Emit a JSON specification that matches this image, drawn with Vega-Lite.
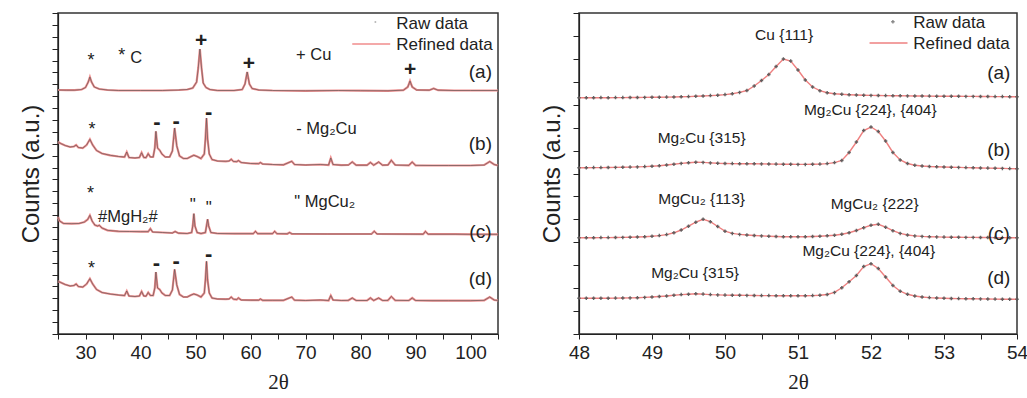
{
"$schema": "https://vega.github.io/schema/vega-lite/v6.json",
"padding": {"left": 18, "top": 11, "right": 0, "bottom": 0},
"background": "white",
"bounds": "flush",
"spacing": 81,
"config": {
  "view": {"stroke": "#333", "strokeWidth": 1.5},
  "font": "Liberation Sans",
  "axis": {"grid": false, "domainColor": "#222", "tickColor": "#222", "labelColor": "#222", "titleColor": "#222", "labelFont": "Liberation Sans", "labelFontSize": 19, "tickSize": 5, "domainWidth": 1.2, "tickWidth": 1, "labelFlush": false}
},
"datasets": {
  "L": [
    {"s":"a","x":25,"y":244},{"s":"a","x":26.5,"y":243.8},{"s":"a","x":28,"y":243.8},{"s":"a","x":29.3,"y":244.5},{"s":"a","x":30,"y":246.5},{"s":"a","x":30.5,"y":252},{"s":"a","x":30.8,"y":257},{"s":"a","x":31.1,"y":252},{"s":"a","x":31.6,"y":247},{"s":"a","x":32.5,"y":245},{"s":"a","x":34,"y":244},{"s":"a","x":36,"y":243.5},{"s":"a","x":40,"y":243.5},{"s":"a","x":44,"y":243.5},{"s":"a","x":47,"y":244},{"s":"a","x":48.5,"y":244.5},{"s":"a","x":49.5,"y":246},{"s":"a","x":50.2,"y":252},{"s":"a","x":50.5,"y":266},{"s":"a","x":50.8,"y":285},{"s":"a","x":51.1,"y":266},{"s":"a","x":51.4,"y":251},{"s":"a","x":51.9,"y":246.5},{"s":"a","x":52.6,"y":244.5},{"s":"a","x":54,"y":243.5},{"s":"a","x":57,"y":243.5},{"s":"a","x":58.5,"y":244.5},{"s":"a","x":59,"y":250},{"s":"a","x":59.4,"y":262},{"s":"a","x":59.8,"y":250},{"s":"a","x":60.3,"y":245.5},{"s":"a","x":61.5,"y":244},{"s":"a","x":64,"y":243.5},{"s":"a","x":70,"y":243.2},{"s":"a","x":76,"y":243.5},{"s":"a","x":80,"y":243.3},{"s":"a","x":85,"y":243.2},{"s":"a","x":87.8,"y":243.8},{"s":"a","x":88.6,"y":247},{"s":"a","x":89,"y":253},{"s":"a","x":89.4,"y":247},{"s":"a","x":90.2,"y":244},{"s":"a","x":92.5,"y":243.8},{"s":"a","x":93.3,"y":245.5},{"s":"a","x":94.1,"y":243.8},{"s":"a","x":97,"y":243.5},{"s":"a","x":100,"y":243.5},{"s":"a","x":105,"y":243.5},
    {"s":"b","x":25,"y":192},{"s":"b","x":25.5,"y":190.5},{"s":"b","x":26.3,"y":188.5},{"s":"b","x":27.2,"y":187},{"s":"b","x":27.9,"y":187.5},{"s":"b","x":28.3,"y":189},{"s":"b","x":28.7,"y":186.5},{"s":"b","x":29.5,"y":186},{"s":"b","x":30.2,"y":189},{"s":"b","x":30.8,"y":194.7},{"s":"b","x":31.3,"y":189},{"s":"b","x":32,"y":183.5},{"s":"b","x":33,"y":180.5},{"s":"b","x":34.5,"y":178.7},{"s":"b","x":36,"y":177.5},{"s":"b","x":37.1,"y":177},{"s":"b","x":37.5,"y":182},{"s":"b","x":37.9,"y":176.5},{"s":"b","x":39,"y":176},{"s":"b","x":39.8,"y":176.5},{"s":"b","x":40.2,"y":181.3},{"s":"b","x":40.6,"y":176.5},{"s":"b","x":41,"y":176.3},{"s":"b","x":41.4,"y":180.3},{"s":"b","x":41.8,"y":177},{"s":"b","x":42.3,"y":177},{"s":"b","x":42.6,"y":186},{"s":"b","x":42.8,"y":202.7},{"s":"b","x":43.1,"y":186},{"s":"b","x":43.5,"y":183.7},{"s":"b","x":43.9,"y":180},{"s":"b","x":44.5,"y":177},{"s":"b","x":45.3,"y":177},{"s":"b","x":45.8,"y":183},{"s":"b","x":46.2,"y":206},{"s":"b","x":46.6,"y":188},{"s":"b","x":47.1,"y":178},{"s":"b","x":47.8,"y":175.5},{"s":"b","x":48.5,"y":175.5},{"s":"b","x":49.2,"y":177.5},{"s":"b","x":49.7,"y":178.7},{"s":"b","x":50.3,"y":177.5},{"s":"b","x":51,"y":175.5},{"s":"b","x":51.6,"y":180},{"s":"b","x":51.8,"y":195},{"s":"b","x":52,"y":216},{"s":"b","x":52.2,"y":195},{"s":"b","x":52.5,"y":180},{"s":"b","x":53,"y":174.5},{"s":"b","x":54,"y":173},{"s":"b","x":55.5,"y":172.7},{"s":"b","x":56.1,"y":173},{"s":"b","x":56.5,"y":174.7},{"s":"b","x":56.9,"y":172.5},{"s":"b","x":57.5,"y":172.3},{"s":"b","x":57.8,"y":173.5},{"s":"b","x":58.3,"y":171.5},{"s":"b","x":60,"y":170.5},{"s":"b","x":61.5,"y":170.3},{"s":"b","x":61.8,"y":171.5},{"s":"b","x":62.2,"y":170},{"s":"b","x":64,"y":169.5},{"s":"b","x":66,"y":169.2},{"s":"b","x":67.5,"y":172.7},{"s":"b","x":68,"y":169.5},{"s":"b","x":70,"y":169},{"s":"b","x":72.7,"y":169.5},{"s":"b","x":74.2,"y":169},{"s":"b","x":74.6,"y":176},{"s":"b","x":75,"y":169.5},{"s":"b","x":76.5,"y":168.8},{"s":"b","x":77.8,"y":169},{"s":"b","x":78.5,"y":172},{"s":"b","x":79.2,"y":168.8},{"s":"b","x":81.2,"y":168.8},{"s":"b","x":81.8,"y":171.5},{"s":"b","x":82.4,"y":168.8},{"s":"b","x":83.3,"y":172},{"s":"b","x":84,"y":168.8},{"s":"b","x":85,"y":169},{"s":"b","x":85.6,"y":173.7},{"s":"b","x":86.3,"y":169},{"s":"b","x":88.8,"y":168.7},{"s":"b","x":89.4,"y":172},{"s":"b","x":90,"y":168.7},{"s":"b","x":93,"y":168.5},{"s":"b","x":96,"y":168.5},{"s":"b","x":100,"y":168.5},{"s":"b","x":102.5,"y":169},{"s":"b","x":103.5,"y":172.5},{"s":"b","x":104.3,"y":169.5},{"s":"b","x":105,"y":168.5},
    {"s":"c","x":25,"y":117},{"s":"c","x":25.3,"y":113},{"s":"c","x":26,"y":110.5},{"s":"c","x":27.5,"y":110.3},{"s":"c","x":28.8,"y":110.5},{"s":"c","x":29.8,"y":112},{"s":"c","x":30.4,"y":114.5},{"s":"c","x":30.8,"y":118.7},{"s":"c","x":31.2,"y":113},{"s":"c","x":31.7,"y":109},{"s":"c","x":32.2,"y":108},{"s":"c","x":32.5,"y":108.7},{"s":"c","x":33,"y":106},{"s":"c","x":34,"y":103.7},{"s":"c","x":36,"y":102.7},{"s":"c","x":38,"y":102.5},{"s":"c","x":40,"y":102.3},{"s":"c","x":41.4,"y":102.3},{"s":"c","x":41.8,"y":105.3},{"s":"c","x":42.2,"y":102},{"s":"c","x":44,"y":101.5},{"s":"c","x":45.8,"y":101},{"s":"c","x":46.3,"y":102.5},{"s":"c","x":46.9,"y":100.8},{"s":"c","x":48.5,"y":100.5},{"s":"c","x":49.3,"y":101.5},{"s":"c","x":49.5,"y":108},{"s":"c","x":49.7,"y":120.3},{"s":"c","x":49.9,"y":108},{"s":"c","x":50.3,"y":101.5},{"s":"c","x":51,"y":100.5},{"s":"c","x":51.8,"y":101.5},{"s":"c","x":52,"y":108},{"s":"c","x":52.2,"y":114.7},{"s":"c","x":52.4,"y":108},{"s":"c","x":52.8,"y":101.5},{"s":"c","x":54,"y":100.5},{"s":"c","x":57,"y":100.3},{"s":"c","x":60.5,"y":100.3},{"s":"c","x":60.9,"y":102.7},{"s":"c","x":61.3,"y":100.3},{"s":"c","x":64,"y":100.3},{"s":"c","x":64.4,"y":102.7},{"s":"c","x":64.8,"y":100.3},{"s":"c","x":66.7,"y":100.2},{"s":"c","x":67.1,"y":101.5},{"s":"c","x":67.5,"y":100.2},{"s":"c","x":74,"y":100},{"s":"c","x":82,"y":100},{"s":"c","x":82.5,"y":102.7},{"s":"c","x":83,"y":100},{"s":"c","x":91.4,"y":99.8},{"s":"c","x":91.8,"y":102.5},{"s":"c","x":92.3,"y":99.8},{"s":"c","x":97.2,"y":99.8},{"s":"c","x":100,"y":99.7},{"s":"c","x":105,"y":99.7},
    {"s":"d","x":25,"y":52.7},{"s":"d","x":25.5,"y":51.5},{"s":"d","x":26.3,"y":49.5},{"s":"d","x":27.2,"y":48},{"s":"d","x":27.9,"y":48.5},{"s":"d","x":28.3,"y":50},{"s":"d","x":28.7,"y":47.5},{"s":"d","x":29.5,"y":47},{"s":"d","x":30.2,"y":50},{"s":"d","x":30.8,"y":55.3},{"s":"d","x":31.3,"y":50},{"s":"d","x":32,"y":44.5},{"s":"d","x":33,"y":41.5},{"s":"d","x":34.5,"y":40},{"s":"d","x":36,"y":39},{"s":"d","x":37.1,"y":38.5},{"s":"d","x":37.5,"y":43},{"s":"d","x":37.9,"y":38},{"s":"d","x":39,"y":37.5},{"s":"d","x":39.8,"y":38},{"s":"d","x":40.2,"y":42.5},{"s":"d","x":40.6,"y":38},{"s":"d","x":41,"y":37.8},{"s":"d","x":41.4,"y":41.5},{"s":"d","x":41.8,"y":38.5},{"s":"d","x":42.3,"y":38.5},{"s":"d","x":42.6,"y":46},{"s":"d","x":42.8,"y":62},{"s":"d","x":43.1,"y":46},{"s":"d","x":43.5,"y":44.5},{"s":"d","x":43.9,"y":41},{"s":"d","x":44.5,"y":38.5},{"s":"d","x":45.3,"y":38.5},{"s":"d","x":45.8,"y":44},{"s":"d","x":46.2,"y":64.7},{"s":"d","x":46.6,"y":49},{"s":"d","x":47.1,"y":39.5},{"s":"d","x":47.8,"y":37},{"s":"d","x":48.5,"y":37},{"s":"d","x":49.2,"y":39},{"s":"d","x":49.7,"y":40},{"s":"d","x":50.3,"y":39},{"s":"d","x":51,"y":37},{"s":"d","x":51.6,"y":41},{"s":"d","x":51.8,"y":54},{"s":"d","x":52,"y":72.7},{"s":"d","x":52.2,"y":54},{"s":"d","x":52.5,"y":41},{"s":"d","x":53,"y":36},{"s":"d","x":54,"y":35},{"s":"d","x":55.5,"y":34.8},{"s":"d","x":56.1,"y":35},{"s":"d","x":56.5,"y":37},{"s":"d","x":56.9,"y":34.8},{"s":"d","x":57.5,"y":34.5},{"s":"d","x":57.8,"y":36},{"s":"d","x":58.3,"y":34},{"s":"d","x":60,"y":33.8},{"s":"d","x":61.5,"y":33.8},{"s":"d","x":61.8,"y":35},{"s":"d","x":62.2,"y":33.7},{"s":"d","x":64,"y":33.7},{"s":"d","x":66,"y":33.7},{"s":"d","x":67.5,"y":37},{"s":"d","x":68,"y":33.8},{"s":"d","x":70,"y":33.5},{"s":"d","x":72.7,"y":34},{"s":"d","x":74.2,"y":33.5},{"s":"d","x":74.6,"y":38.5},{"s":"d","x":75,"y":34},{"s":"d","x":76.5,"y":33.5},{"s":"d","x":77.8,"y":33.7},{"s":"d","x":78.5,"y":36},{"s":"d","x":79.2,"y":33.5},{"s":"d","x":81.2,"y":33.5},{"s":"d","x":81.8,"y":36},{"s":"d","x":82.4,"y":33.5},{"s":"d","x":83.3,"y":36},{"s":"d","x":84,"y":33.5},{"s":"d","x":85,"y":33.7},{"s":"d","x":85.6,"y":37.5},{"s":"d","x":86.3,"y":33.7},{"s":"d","x":88.8,"y":33.5},{"s":"d","x":89.4,"y":36},{"s":"d","x":90,"y":33.5},{"s":"d","x":93,"y":33.3},{"s":"d","x":96,"y":33.3},{"s":"d","x":100,"y":33.3},{"s":"d","x":102.5,"y":33.7},{"s":"d","x":103.5,"y":37},{"s":"d","x":104.3,"y":34},{"s":"d","x":105,"y":33.5}
  ],
  "R": [
    {"s":"a","x":48.0,"y":236.3},{"s":"a","x":48.1,"y":236.3},{"s":"a","x":48.2,"y":236.3},{"s":"a","x":48.3,"y":236.4},{"s":"a","x":48.4,"y":236.3},{"s":"a","x":48.5,"y":236.4},{"s":"a","x":48.6,"y":236.4},{"s":"a","x":48.7,"y":236.5},{"s":"a","x":48.8,"y":236.5},{"s":"a","x":48.9,"y":236.6},{"s":"a","x":49.0,"y":236.7},{"s":"a","x":49.1,"y":236.8},{"s":"a","x":49.2,"y":236.9},{"s":"a","x":49.3,"y":237.0},{"s":"a","x":49.4,"y":237.2},{"s":"a","x":49.5,"y":237.4},{"s":"a","x":49.6,"y":237.7},{"s":"a","x":49.7,"y":238.0},{"s":"a","x":49.8,"y":238.4},{"s":"a","x":49.9,"y":238.8},{"s":"a","x":50.0,"y":239.4},{"s":"a","x":50.1,"y":240.3},{"s":"a","x":50.2,"y":241.6},{"s":"a","x":50.3,"y":243.5},{"s":"a","x":50.4,"y":248},{"s":"a","x":50.5,"y":253.5},{"s":"a","x":50.6,"y":259.5},{"s":"a","x":50.7,"y":267.5},{"s":"a","x":50.8,"y":275},{"s":"a","x":50.9,"y":273},{"s":"a","x":51.0,"y":264},{"s":"a","x":51.1,"y":254},{"s":"a","x":51.2,"y":247},{"s":"a","x":51.3,"y":243.3},{"s":"a","x":51.4,"y":241.3},{"s":"a","x":51.5,"y":240.3},{"s":"a","x":51.6,"y":239.7},{"s":"a","x":51.7,"y":239.3},{"s":"a","x":51.8,"y":239.0},{"s":"a","x":51.9,"y":238.8},{"s":"a","x":52.0,"y":238.6},{"s":"a","x":52.1,"y":238.5},{"s":"a","x":52.2,"y":238.4},{"s":"a","x":52.3,"y":238.3},{"s":"a","x":52.4,"y":238.2},{"s":"a","x":52.5,"y":238.1},{"s":"a","x":52.6,"y":238.0},{"s":"a","x":52.7,"y":238.0},{"s":"a","x":52.8,"y":237.9},{"s":"a","x":52.9,"y":237.8},{"s":"a","x":53.0,"y":237.8},{"s":"a","x":53.1,"y":237.7},{"s":"a","x":53.2,"y":237.7},{"s":"a","x":53.3,"y":237.6},{"s":"a","x":53.4,"y":237.6},{"s":"a","x":53.5,"y":237.5},{"s":"a","x":53.6,"y":237.5},{"s":"a","x":53.7,"y":237.4},{"s":"a","x":53.8,"y":237.4},{"s":"a","x":53.9,"y":237.3},{"s":"a","x":54.0,"y":237.3},
    {"s":"b","x":48.0,"y":166.3},{"s":"b","x":48.1,"y":166.3},{"s":"b","x":48.2,"y":166.4},{"s":"b","x":48.3,"y":166.4},{"s":"b","x":48.4,"y":166.5},{"s":"b","x":48.5,"y":166.6},{"s":"b","x":48.6,"y":166.7},{"s":"b","x":48.7,"y":166.9},{"s":"b","x":48.8,"y":167.1},{"s":"b","x":48.9,"y":167.4},{"s":"b","x":49.0,"y":167.8},{"s":"b","x":49.1,"y":168.3},{"s":"b","x":49.2,"y":169.0},{"s":"b","x":49.3,"y":169.8},{"s":"b","x":49.4,"y":170.6},{"s":"b","x":49.5,"y":171.3},{"s":"b","x":49.6,"y":171.8},{"s":"b","x":49.7,"y":171.6},{"s":"b","x":49.8,"y":171.1},{"s":"b","x":49.9,"y":170.7},{"s":"b","x":50.0,"y":170.5},{"s":"b","x":50.1,"y":170.4},{"s":"b","x":50.2,"y":170.3},{"s":"b","x":50.3,"y":170.3},{"s":"b","x":50.4,"y":170.2},{"s":"b","x":50.5,"y":170.1},{"s":"b","x":50.6,"y":170.0},{"s":"b","x":50.7,"y":169.9},{"s":"b","x":50.8,"y":169.8},{"s":"b","x":50.9,"y":169.7},{"s":"b","x":51.0,"y":169.6},{"s":"b","x":51.1,"y":169.6},{"s":"b","x":51.2,"y":169.7},{"s":"b","x":51.3,"y":169.9},{"s":"b","x":51.4,"y":170.4},{"s":"b","x":51.5,"y":171.4},{"s":"b","x":51.6,"y":173.5},{"s":"b","x":51.7,"y":181.5},{"s":"b","x":51.8,"y":192},{"s":"b","x":51.9,"y":203.5},{"s":"b","x":52.0,"y":207},{"s":"b","x":52.1,"y":202.5},{"s":"b","x":52.2,"y":193},{"s":"b","x":52.3,"y":181.5},{"s":"b","x":52.4,"y":174},{"s":"b","x":52.5,"y":170.5},{"s":"b","x":52.6,"y":168.8},{"s":"b","x":52.7,"y":168},{"s":"b","x":52.8,"y":167.5},{"s":"b","x":52.9,"y":167.2},{"s":"b","x":53.0,"y":167.0},{"s":"b","x":53.1,"y":166.8},{"s":"b","x":53.2,"y":166.6},{"s":"b","x":53.3,"y":166.4},{"s":"b","x":53.4,"y":166.2},{"s":"b","x":53.5,"y":166.0},{"s":"b","x":53.6,"y":165.9},{"s":"b","x":53.7,"y":165.7},{"s":"b","x":53.8,"y":165.6},{"s":"b","x":53.9,"y":165.4},{"s":"b","x":54.0,"y":165.3},
    {"s":"c","x":48.0,"y":96.3},{"s":"c","x":48.1,"y":96.3},{"s":"c","x":48.2,"y":96.3},{"s":"c","x":48.3,"y":96.4},{"s":"c","x":48.4,"y":96.4},{"s":"c","x":48.5,"y":96.5},{"s":"c","x":48.6,"y":96.6},{"s":"c","x":48.7,"y":96.8},{"s":"c","x":48.8,"y":97.0},{"s":"c","x":48.9,"y":97.3},{"s":"c","x":49.0,"y":97.7},{"s":"c","x":49.1,"y":98.4},{"s":"c","x":49.2,"y":99.4},{"s":"c","x":49.3,"y":101.2},{"s":"c","x":49.4,"y":104},{"s":"c","x":49.5,"y":107.8},{"s":"c","x":49.6,"y":111.8},{"s":"c","x":49.7,"y":114.7},{"s":"c","x":49.8,"y":112.3},{"s":"c","x":49.9,"y":107.5},{"s":"c","x":50.0,"y":102.8},{"s":"c","x":50.1,"y":100.6},{"s":"c","x":50.2,"y":99.6},{"s":"c","x":50.3,"y":99.0},{"s":"c","x":50.4,"y":98.5},{"s":"c","x":50.5,"y":98.1},{"s":"c","x":50.6,"y":97.8},{"s":"c","x":50.7,"y":97.5},{"s":"c","x":50.8,"y":97.3},{"s":"c","x":50.9,"y":97.2},{"s":"c","x":51.0,"y":97.2},{"s":"c","x":51.1,"y":97.3},{"s":"c","x":51.2,"y":97.5},{"s":"c","x":51.3,"y":97.8},{"s":"c","x":51.4,"y":98.2},{"s":"c","x":51.5,"y":98.8},{"s":"c","x":51.6,"y":99.7},{"s":"c","x":51.7,"y":101.3},{"s":"c","x":51.8,"y":103.5},{"s":"c","x":51.9,"y":106.3},{"s":"c","x":52.0,"y":108.7},{"s":"c","x":52.1,"y":109.7},{"s":"c","x":52.2,"y":106.8},{"s":"c","x":52.3,"y":103.3},{"s":"c","x":52.4,"y":100.6},{"s":"c","x":52.5,"y":99.0},{"s":"c","x":52.6,"y":98.1},{"s":"c","x":52.7,"y":97.6},{"s":"c","x":52.8,"y":97.3},{"s":"c","x":52.9,"y":97.1},{"s":"c","x":53.0,"y":96.9},{"s":"c","x":53.1,"y":96.8},{"s":"c","x":53.2,"y":96.7},{"s":"c","x":53.3,"y":96.6},{"s":"c","x":53.4,"y":96.6},{"s":"c","x":53.5,"y":96.5},{"s":"c","x":53.6,"y":96.5},{"s":"c","x":53.7,"y":96.4},{"s":"c","x":53.8,"y":96.4},{"s":"c","x":53.9,"y":96.3},{"s":"c","x":54.0,"y":96.3},
    {"s":"d","x":48.0,"y":35.7},{"s":"d","x":48.1,"y":35.7},{"s":"d","x":48.2,"y":35.7},{"s":"d","x":48.3,"y":35.8},{"s":"d","x":48.4,"y":35.8},{"s":"d","x":48.5,"y":35.9},{"s":"d","x":48.6,"y":36.0},{"s":"d","x":48.7,"y":36.1},{"s":"d","x":48.8,"y":36.3},{"s":"d","x":48.9,"y":36.6},{"s":"d","x":49.0,"y":37.0},{"s":"d","x":49.1,"y":37.5},{"s":"d","x":49.2,"y":38.0},{"s":"d","x":49.3,"y":38.7},{"s":"d","x":49.4,"y":39.4},{"s":"d","x":49.5,"y":39.8},{"s":"d","x":49.6,"y":40.2},{"s":"d","x":49.7,"y":39.9},{"s":"d","x":49.8,"y":39.4},{"s":"d","x":49.9,"y":39.1},{"s":"d","x":50.0,"y":38.9},{"s":"d","x":50.1,"y":38.8},{"s":"d","x":50.2,"y":38.7},{"s":"d","x":50.3,"y":38.6},{"s":"d","x":50.4,"y":38.5},{"s":"d","x":50.5,"y":38.4},{"s":"d","x":50.6,"y":38.4},{"s":"d","x":50.7,"y":38.3},{"s":"d","x":50.8,"y":38.3},{"s":"d","x":50.9,"y":38.2},{"s":"d","x":51.0,"y":38.2},{"s":"d","x":51.1,"y":38.3},{"s":"d","x":51.2,"y":38.4},{"s":"d","x":51.3,"y":38.7},{"s":"d","x":51.4,"y":39.5},{"s":"d","x":51.5,"y":41.6},{"s":"d","x":51.6,"y":46.2},{"s":"d","x":51.7,"y":52.3},{"s":"d","x":51.8,"y":58.5},{"s":"d","x":51.9,"y":67.5},{"s":"d","x":52.0,"y":70.3},{"s":"d","x":52.1,"y":65.5},{"s":"d","x":52.2,"y":57},{"s":"d","x":52.3,"y":48.5},{"s":"d","x":52.4,"y":42.8},{"s":"d","x":52.5,"y":39.7},{"s":"d","x":52.6,"y":38.0},{"s":"d","x":52.7,"y":37.0},{"s":"d","x":52.8,"y":36.4},{"s":"d","x":52.9,"y":36.0},{"s":"d","x":53.0,"y":35.7},{"s":"d","x":53.1,"y":35.5},{"s":"d","x":53.2,"y":35.4},{"s":"d","x":53.3,"y":35.3},{"s":"d","x":53.4,"y":35.2},{"s":"d","x":53.5,"y":35.1},{"s":"d","x":53.6,"y":35.0},{"s":"d","x":53.7,"y":34.9},{"s":"d","x":53.8,"y":34.8},{"s":"d","x":53.9,"y":34.8},{"s":"d","x":54.0,"y":34.7}
  ],
  "ticks": [
    {"ph":"Mg2Cu","x":25.4},{"ph":"Mg2Cu","x":28.5},{"ph":"Mg2Cu","x":37.5},{"ph":"Mg2Cu","x":40.3},{"ph":"Mg2Cu","x":40.9},{"ph":"Mg2Cu","x":41.5},{"ph":"Mg2Cu","x":42.7},{"ph":"Mg2Cu","x":43.6},{"ph":"Mg2Cu","x":46.0},{"ph":"Mg2Cu","x":46.15},{"ph":"Mg2Cu","x":46.3},{"ph":"Mg2Cu","x":47.7},{"ph":"Mg2Cu","x":49.7},{"ph":"Mg2Cu","x":51.8},{"ph":"Mg2Cu","x":52.4},{"ph":"Mg2Cu","x":56.2},{"ph":"Mg2Cu","x":57.2},{"ph":"Mg2Cu","x":58.0},{"ph":"Mg2Cu","x":62.7},{"ph":"Mg2Cu","x":63.1},{"ph":"Mg2Cu","x":63.6},{"ph":"Mg2Cu","x":64.1},{"ph":"Mg2Cu","x":66.3},{"ph":"Mg2Cu","x":66.9},{"ph":"Mg2Cu","x":67.4},{"ph":"Mg2Cu","x":68.4},{"ph":"Mg2Cu","x":69.4},{"ph":"Mg2Cu","x":72.6},{"ph":"Mg2Cu","x":72.8},{"ph":"Mg2Cu","x":75.1},{"ph":"Mg2Cu","x":75.7},{"ph":"Mg2Cu","x":76.9},{"ph":"Mg2Cu","x":77.5},{"ph":"Mg2Cu","x":78.0},{"ph":"Mg2Cu","x":78.4},{"ph":"Mg2Cu","x":78.9},{"ph":"Mg2Cu","x":80.3},{"ph":"Mg2Cu","x":81.8},{"ph":"Mg2Cu","x":82.4},{"ph":"Mg2Cu","x":83.8},{"ph":"Mg2Cu","x":84.0},{"ph":"Mg2Cu","x":85.7},{"ph":"Mg2Cu","x":87.5},{"ph":"Mg2Cu","x":88.5},{"ph":"Mg2Cu","x":90.9},{"ph":"Mg2Cu","x":91.8},{"ph":"Mg2Cu","x":92.2},{"ph":"Mg2Cu","x":92.4},{"ph":"Mg2Cu","x":95.4},{"ph":"Mg2Cu","x":95.9},{"ph":"Mg2Cu","x":96.1},{"ph":"Mg2Cu","x":97.2},{"ph":"Mg2Cu","x":98.2},{"ph":"Mg2Cu","x":99.1},{"ph":"Mg2Cu","x":100.3},{"ph":"Mg2Cu","x":101.4},{"ph":"Mg2Cu","x":102.1},{"ph":"Mg2Cu","x":102.7},{"ph":"Mg2Cu","x":103.0},{"ph":"Mg2Cu","x":103.6},{"ph":"Mg2Cu","x":104.0},
    {"ph":"MgCu2","x":25.1},{"ph":"MgCu2","x":42.1},{"ph":"MgCu2","x":49.7},{"ph":"MgCu2","x":52.1},{"ph":"MgCu2","x":60.9},{"ph":"MgCu2","x":67.1},{"ph":"MgCu2","x":76.7},{"ph":"MgCu2","x":82.3},{"ph":"MgCu2","x":91.7},{"ph":"MgCu2","x":97.2},{"ph":"MgCu2","x":98.9}
  ],
  "ann": [
    {"p":"L","k":"star","x":31.0,"y":278,"t":"*"},{"p":"L","k":"star","x":36.6,"y":283,"t":"*"},{"p":"L","k":"star","x":31.2,"y":208.7,"t":"*"},{"p":"L","k":"star","x":30.9,"y":144.7,"t":"*"},{"p":"L","k":"star","x":31.1,"y":70.3,"t":"*"},
    {"p":"L","k":"plus","x":51.0,"y":292.7,"t":"+"},{"p":"L","k":"plus","x":59.7,"y":270.3,"t":"+"},{"p":"L","k":"plus","x":89.0,"y":263.7,"t":"+"},
    {"p":"L","k":"dash","x":43.0,"y":212,"t":"-"},{"p":"L","k":"dash","x":46.5,"y":212.7,"t":"-"},{"p":"L","k":"dash","x":52.4,"y":222,"t":"-"},{"p":"L","k":"dash","x":42.9,"y":71.3,"t":"-"},{"p":"L","k":"dash","x":46.5,"y":72.7,"t":"-"},{"p":"L","k":"dash","x":52.4,"y":80.3,"t":"-"},
    {"p":"L","k":"quote","x":49.5,"y":133.7,"t":"\""},{"p":"L","k":"quote","x":52.4,"y":131.3,"t":"\""},
    {"p":"L","k":"label","x":39.2,"y":276,"t":"C"},{"p":"L","k":"label","x":71.5,"y":279,"t":"+ Cu"},{"p":"L","k":"label","x":73.8,"y":205.3,"t":"- Mg₂Cu"},{"p":"L","k":"label","x":37.7,"y":117,"t":"#MgH₂#"},{"p":"L","k":"label","x":73.5,"y":132,"t":"\" MgCu₂"},
    {"p":"L","k":"tag","x":101.8,"y":262,"t":"(a)"},{"p":"L","k":"tag","x":101.8,"y":190.3,"t":"(b)"},{"p":"L","k":"tag","x":101.8,"y":102,"t":"(c)"},{"p":"L","k":"tag","x":101.8,"y":55.3,"t":"(d)"},
    {"p":"L","k":"legend","x":86.5,"y":310.3,"t":"Raw data"},{"p":"L","k":"legend","x":86.5,"y":289.3,"t":"Refined data"},
    {"p":"R","k":"label","x":50.81,"y":299,"t":"Cu {111}"},{"p":"R","k":"label","x":51.99,"y":223.7,"t":"Mg₂Cu {224}, {404}"},{"p":"R","k":"label","x":49.68,"y":196.3,"t":"Mg₂Cu {315}"},{"p":"R","k":"label","x":49.68,"y":134.7,"t":"MgCu₂ {113}"},{"p":"R","k":"label","x":52.05,"y":129.7,"t":"MgCu₂ {222}"},{"p":"R","k":"label","x":51.97,"y":83,"t":"Mg₂Cu {224}, {404}"},{"p":"R","k":"label","x":49.59,"y":61.3,"t":"Mg₂Cu {315}"},
    {"p":"R","k":"tag","x":53.75,"y":261.3,"t":"(a)"},{"p":"R","k":"tag","x":53.75,"y":183.7,"t":"(b)"},{"p":"R","k":"tag","x":53.75,"y":99.7,"t":"(c)"},{"p":"R","k":"tag","x":53.75,"y":56.3,"t":"(d)"},
    {"p":"R","k":"legend","x":52.58,"y":311.3,"t":"Raw data"},{"p":"R","k":"legend","x":52.58,"y":290.3,"t":"Refined data"}
  ],
  "legline": [
    {"p":"L","x":78.5,"y":290},{"p":"L","x":85.4,"y":290},
    {"p":"R","x":51.98,"y":291},{"p":"R","x":52.5,"y":291}
  ],
  "legpt": [
    {"p":"L","x":82.7,"y":312},{"p":"R","x":52.3,"y":312.3}
  ]
},
"hconcat": [
  {
    "width": 440, "height": 321,
    "encoding": {
      "x": {"field": "x", "type": "quantitative", "scale": {"domain": [25, 105], "nice": false, "zero": false},
        "axis": {"title": "2θ", "titleFont": "Liberation Serif", "titleFontSize": 21, "titleFontWeight": "normal", "titlePadding": 9, "values": [25,30,35,40,45,50,55,60,65,70,75,80,85,90,95,100,105], "labelExpr": "datum.value % 10 === 0 ? datum.label : ''", "labelPadding": 4}},
      "y": {"field": "y", "type": "quantitative", "scale": {"domain": [0, 321], "nice": false, "zero": false},
        "axis": {"title": "Counts (a.u.)", "titleFontSize": 24, "titleFontWeight": "normal", "titlePadding": 8, "labels": false, "tickSize": 6, "values": [0,11.89,23.78,35.67,47.56,59.45,71.34,83.23,95.12,107.01,118.9,130.79,142.68,154.57,166.46,178.35,190.24,202.13,214.02,225.91,237.8,249.69,261.58,273.47,285.36,297.25,309.14,321]}}
    },
    "layer": [
      {"data": {"name": "L"}, "mark": {"type": "line", "color": "#f08c8c", "strokeWidth": 2.2}, "encoding": {"detail": {"field": "s"}}},
      {"data": {"name": "L"}, "mark": {"type": "line", "color": "#555", "strokeWidth": 0.8, "opacity": 0.8}, "encoding": {"detail": {"field": "s"}}},
      {"data": {"name": "ticks"}, "transform": [{"filter": "datum.ph === 'Mg2Cu'"}], "mark": {"type": "tick", "orient": "vertical", "size": 6, "thickness": 1, "color": "#999"}, "encoding": {"y": {"datum": 160.5}}},
      {"data": {"name": "ticks"}, "transform": [{"filter": "datum.ph === 'Mg2Cu'"}], "mark": {"type": "tick", "orient": "vertical", "size": 6, "thickness": 1, "color": "#999"}, "encoding": {"y": {"datum": 24}}},
      {"data": {"name": "ticks"}, "transform": [{"filter": "datum.ph === 'MgCu2'"}], "mark": {"type": "tick", "orient": "vertical", "size": 6, "thickness": 1, "color": "#999"}, "encoding": {"y": {"datum": 90.5}}},
      {"data": {"name": "ann"}, "transform": [{"filter": "datum.p === 'L' && datum.k === 'star'"}], "mark": {"type": "text", "fontSize": 18, "baseline": "middle", "dy": 5, "color": "#222"}, "encoding": {"text": {"field": "t"}}},
      {"data": {"name": "ann"}, "transform": [{"filter": "datum.p === 'L' && datum.k === 'plus'"}], "mark": {"type": "text", "fontSize": 21, "fontWeight": "bold", "baseline": "middle", "color": "#222"}, "encoding": {"text": {"field": "t"}}},
      {"data": {"name": "ann"}, "transform": [{"filter": "datum.p === 'L' && datum.k === 'dash'"}], "mark": {"type": "text", "fontSize": 22, "fontWeight": "bold", "baseline": "middle", "color": "#222"}, "encoding": {"text": {"field": "t"}}},
      {"data": {"name": "ann"}, "transform": [{"filter": "datum.p === 'L' && datum.k === 'quote'"}], "mark": {"type": "text", "fontSize": 17, "baseline": "middle", "dy": 5, "color": "#222"}, "encoding": {"text": {"field": "t"}}},
      {"data": {"name": "ann"}, "transform": [{"filter": "datum.p === 'L' && datum.k === 'label'"}], "mark": {"type": "text", "fontSize": 16.5, "baseline": "middle", "color": "#222"}, "encoding": {"text": {"field": "t"}}},
      {"data": {"name": "ann"}, "transform": [{"filter": "datum.p === 'L' && datum.k === 'tag'"}], "mark": {"type": "text", "fontSize": 19, "baseline": "middle", "color": "#222"}, "encoding": {"text": {"field": "t"}}},
      {"data": {"name": "ann"}, "transform": [{"filter": "datum.p === 'L' && datum.k === 'legend'"}], "mark": {"type": "text", "fontSize": 17, "align": "left", "baseline": "middle", "color": "#222"}, "encoding": {"text": {"field": "t"}}},
      {"data": {"name": "legline"}, "transform": [{"filter": "datum.p === 'L'"}], "mark": {"type": "line", "color": "#f08c8c", "strokeWidth": 1.5}, "encoding": {}},
      {"data": {"name": "legpt"}, "transform": [{"filter": "datum.p === 'L'"}], "mark": {"type": "point", "filled": true, "size": 4, "color": "#999"}, "encoding": {}}
    ]
  },
  {
    "width": 438, "height": 321,
    "encoding": {
      "x": {"field": "x", "type": "quantitative", "scale": {"domain": [48, 54], "nice": false, "zero": false},
        "axis": {"title": "2θ", "titleFont": "Liberation Serif", "titleFontSize": 21, "titleFontWeight": "normal", "titlePadding": 9, "values": [48,48.5,49,49.5,50,50.5,51,51.5,52,52.5,53,53.5,54], "labelExpr": "datum.value % 1 === 0 ? format(datum.value, 'd') : ''", "labelPadding": 4}},
      "y": {"field": "y", "type": "quantitative", "scale": {"domain": [0, 321], "nice": false, "zero": false},
        "axis": {"title": "Counts (a.u.)", "titleFontSize": 24, "titleFontWeight": "normal", "titlePadding": 8, "labels": false, "tickSize": 6, "values": [0,22.93,45.86,68.79,91.71,114.64,137.57,160.5,183.43,206.36,229.29,252.21,275.14,298.07,321]}}
    },
    "layer": [
      {"data": {"name": "R"}, "mark": {"type": "line", "color": "#ee8080", "strokeWidth": 1.4}, "encoding": {"detail": {"field": "s"}}},
      {"data": {"name": "R"}, "mark": {"type": "point", "shape": "cross", "filled": true, "size": 12, "color": "#555", "opacity": 0.9}, "encoding": {"detail": {"field": "s"}}},
      {"data": {"name": "ann"}, "transform": [{"filter": "datum.p === 'R' && datum.k === 'label'"}], "mark": {"type": "text", "fontSize": 15.5, "baseline": "middle", "color": "#222"}, "encoding": {"text": {"field": "t"}}},
      {"data": {"name": "ann"}, "transform": [{"filter": "datum.p === 'R' && datum.k === 'tag'"}], "mark": {"type": "text", "fontSize": 19, "baseline": "middle", "color": "#222"}, "encoding": {"text": {"field": "t"}}},
      {"data": {"name": "ann"}, "transform": [{"filter": "datum.p === 'R' && datum.k === 'legend'"}], "mark": {"type": "text", "fontSize": 17, "align": "left", "baseline": "middle", "color": "#222"}, "encoding": {"text": {"field": "t"}}},
      {"data": {"name": "legline"}, "transform": [{"filter": "datum.p === 'R'"}], "mark": {"type": "line", "color": "#ee8080", "strokeWidth": 1.4}, "encoding": {}},
      {"data": {"name": "legpt"}, "transform": [{"filter": "datum.p === 'R'"}], "mark": {"type": "point", "shape": "cross", "filled": true, "size": 12, "color": "#555"}, "encoding": {}}
    ]
  }
]
}
